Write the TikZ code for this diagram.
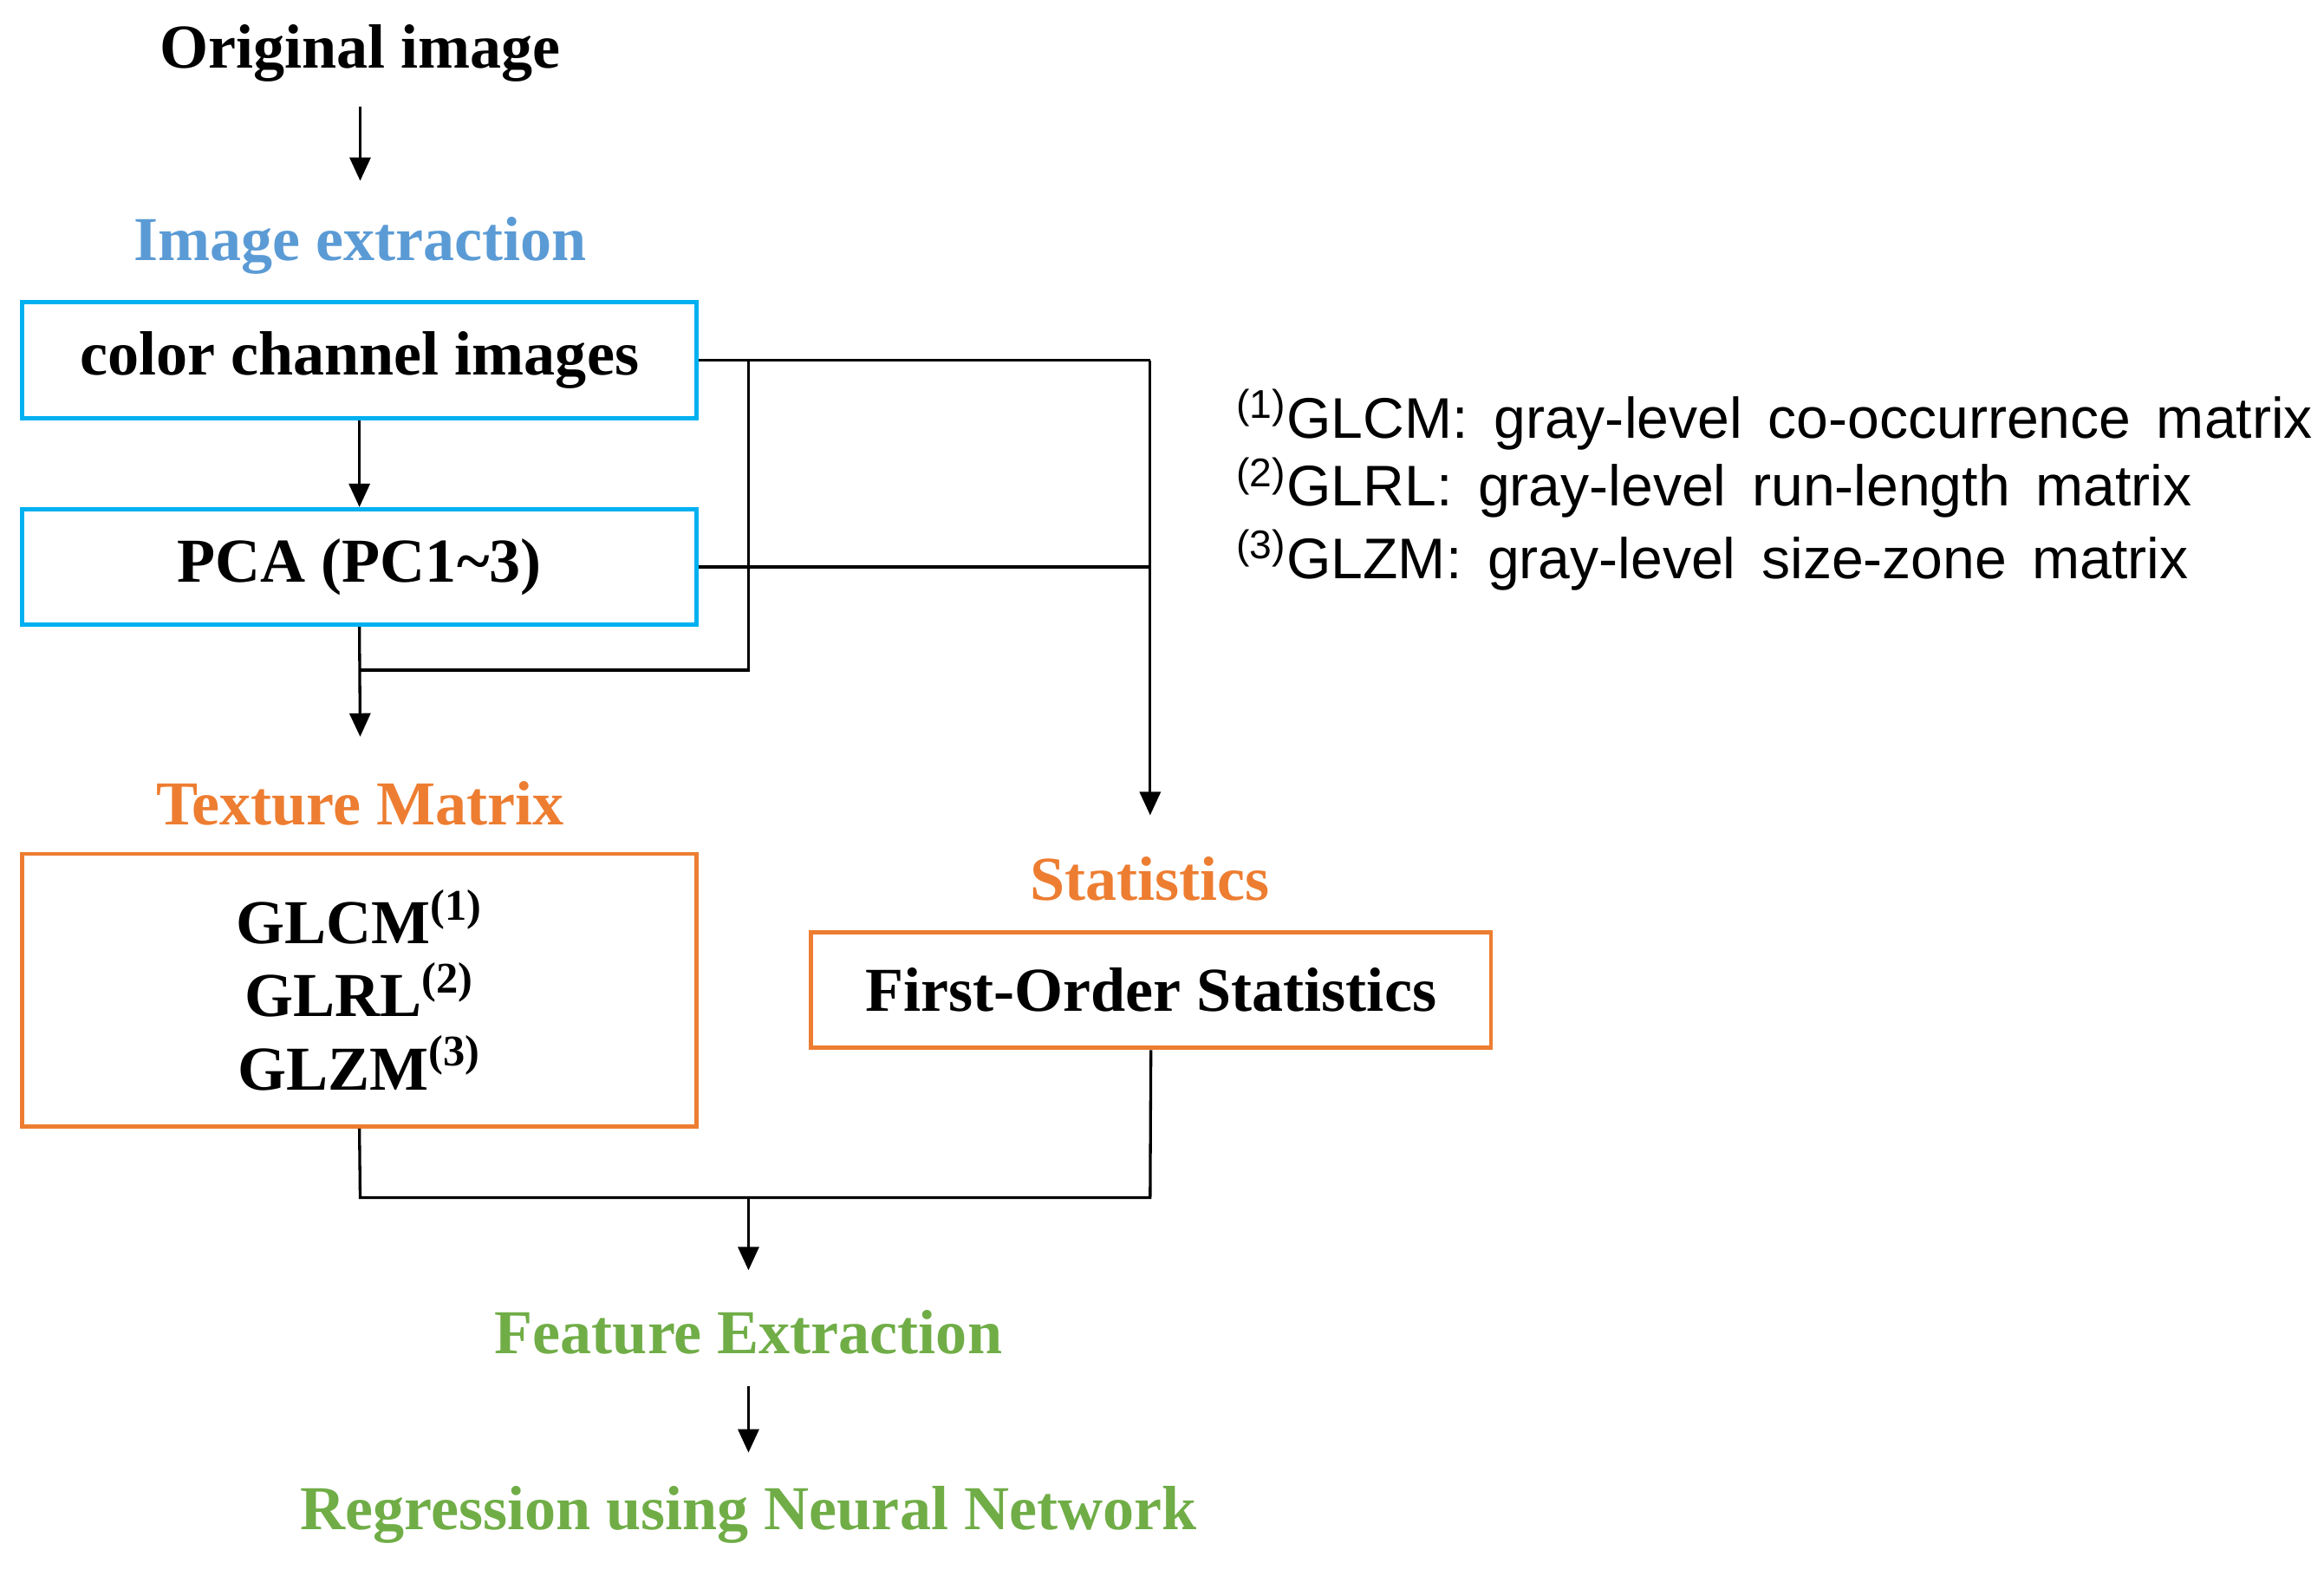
\documentclass[tikz,border=0pt]{standalone}
\usepackage{fontspec}
\setmainfont{Liberation Serif}
\newfontfamily\lgd{Liberation Sans}
\usetikzlibrary{arrows.meta}
\definecolor{cblue}{HTML}{5B9BD5}
\definecolor{ccyan}{HTML}{00B0F0}
\definecolor{corange}{HTML}{ED7D31}
\definecolor{cgreen}{HTML}{70AD47}
\newcommand\mylsp{\spaceskip=0.45em\relax}
\begin{document}
\begin{tikzpicture}[x=0.02cm,y=-0.02cm,
  lab/.style={font=\fontsize{24}{28}\selectfont\bfseries},
  box/.style={draw,line width=1.6pt,minimum width=9.1cm,minimum height=1.56cm,font=\fontsize{24}{28}\selectfont\bfseries},
  ln/.style={line width=1.1pt},
  ar/.style={ln,-{Triangle[length=9pt,width=8pt]}},
  leg/.style={font=\lgd\fontsize{22}{26}\selectfont,anchor=west}]
\useasboundingbox (0,0) rectangle (1568,1063);
\node[lab] (orig) at (243,36) {Original image};
\node[lab,text=cblue] (ie) at (243,166) {Image extraction};
\node[box,draw=ccyan] (cc) at (242.5,243) {color channel images};
\node[box,draw=ccyan] (pca) at (242.5,382.5) {PCA (PC1\textasciitilde3)};
\node[lab,text=corange] (tm) at (243,542) {Texture Matrix};
\node[box,draw=corange,minimum height=3.68cm,align=center,font=\fontsize{24}{26}\selectfont\bfseries] (tb) at (242.5,668)
 {GLCM\textsuperscript{(1)}\\[2pt] GLRL\textsuperscript{(2)}\\[2pt] GLZM\textsuperscript{(3)}};
\node[lab,text=corange] (st) at (776,593) {Statistics};
\node[box,draw=corange,minimum width=9.18cm] (fo) at (776.5,668) {First-Order Statistics};
\node[lab,text=cgreen] (fe) at (505,899) {Feature Extraction};
\node[lab,text=cgreen] (rg) at (505,1022) {Regression using Neural Network};
\coordinate (a1) at (243,72); \coordinate (a2) at (243,122);
\coordinate (s1) at (776,550); \coordinate (t1) at (243,497);
\coordinate (m1) at (505,808); \coordinate (m2) at (505,857);
\coordinate (f1) at (505,935); \coordinate (f2) at (505,980);
\draw[ar] (a1) -- (a2);
\draw[ar] (cc.south) -- (pca.north);
\draw[ln] (cc.east) -- (776,243);
\draw[ar] (776,243) -- (s1);
\draw[ln] (pca.east) -- (776,382.5);
\draw[ln] (505,243) -- (505,452) -- (243,452);
\draw[ar] (pca.south) -- (t1);
\draw[ln] (tb.south) -- (243,808) -- (776,808) -- (fo.south);
\draw[ar] (m1) -- (m2);
\draw[ar] (f1) -- (f2);
\node[leg] (l1) at (828,283) {\mylsp\textsuperscript{(1)}GLCM: gray-level co-occurrence matrix};
\node[leg] (l2) at (828,329) {\mylsp\textsuperscript{(2)}GLRL: gray-level run-length matrix};
\node[leg] (l3) at (828,378) {\mylsp\textsuperscript{(3)}GLZM: gray-level size-zone matrix};
\end{tikzpicture}
\end{document}
